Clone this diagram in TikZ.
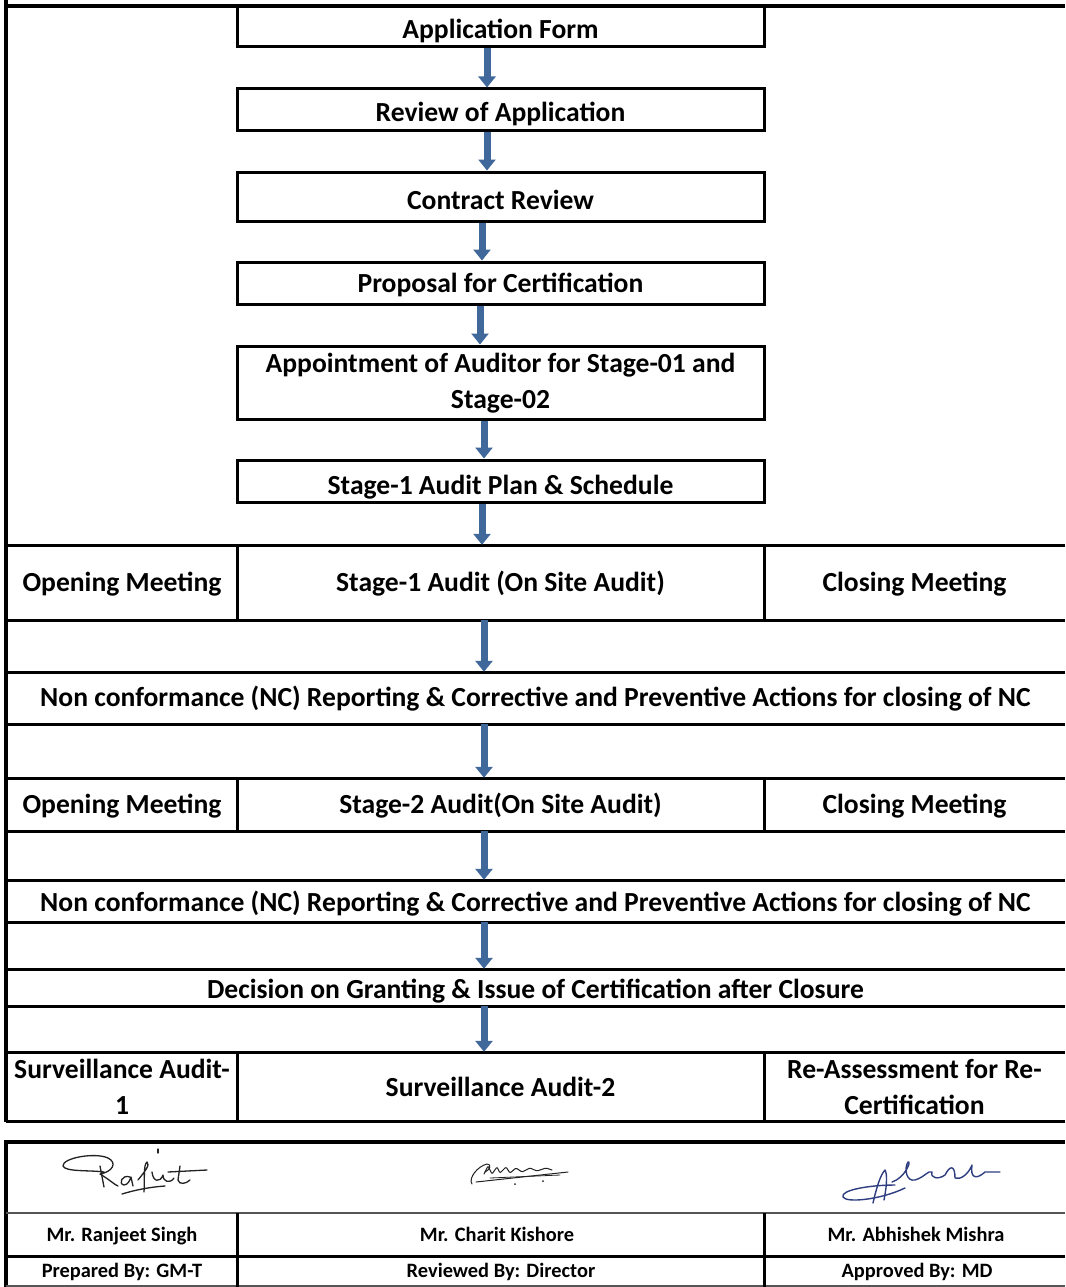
\documentclass[tikz,border=0pt]{standalone}
\usepackage{fontspec}
\setmainfont{Carlito}
\usetikzlibrary{arrows.meta}
\definecolor{arrblue}{HTML}{41689B}
\definecolor{ink}{HTML}{222222}
\definecolor{blueink}{HTML}{2E3E80}
\definecolor{lgray}{HTML}{555555}
\newcommand\flowfont{\fontsize{27.6}{36}\selectfont\bfseries}
\newcommand\footfont{\fontsize{20.4}{24}\selectfont\bfseries}
\begin{document}
\begin{tikzpicture}[x=1pt,y=-1pt,
  box/.style={draw, line width=3pt, minimum width=527pt, inner sep=0pt, font=\flowfont, align=center},
  cell/.style={inner sep=0pt, font=\flowfont, align=center},
  fcell/.style={inner sep=0pt, font=\footfont, align=center},
  bl/.style={text height=#1, text depth=0pt},
  rule/.style={line width=3pt},
  frame/.style={line width=4pt},
  arr/.style={draw=arrblue, line width=7pt, -{Triangle[width=17pt,length=11pt]}},
  sig/.style={draw=ink, line width=1.3pt, line cap=round, line join=round},
  bsig/.style={draw=blueink, line width=1.4pt, line cap=round, line join=round}]
\fill[white] (0,0) rectangle (1065,1287);
\useasboundingbox (0,0) rectangle (1065,1287);

% outer frame
\draw[frame] (6,0) -- (6,1122);
\draw[frame] (4,6) -- (1065,6);

% flow boxes
\node[box, minimum height=41pt, bl=24pt] (b1) at (500.5,26.5) {Application Form};
\node[box, minimum height=42pt, bl=24pt] (b2) at (500.5,110) {Review of Application};
\node[box, minimum height=49pt, bl=25pt] (b3) at (500.5,196.5) {Contract Review};
\node[box, minimum height=42pt, bl=19pt] (b4) at (500.5,283) {Proposal for Certification};
\node[box, minimum height=73pt, bl=51pt] (b5) at (500.5,382.5) {Appointment of Auditor for Stage-01 and\\Stage-02};
\node[box, minimum height=42pt, bl=26pt] (b6) at (500.5,481) {Stage-1 Audit Plan \& Schedule};

% full-width rules
\foreach \yy in {545,620,672,724,778,831,880,922,969,1006,1052,1121}
  \draw[rule] (6,\yy) -- (1065,\yy);
% column dividers
\foreach \ya/\yb in {545/620,778/831,1052/1121}{
  \draw[rule] (237,\ya) -- (237,\yb);
  \draw[rule] (764,\ya) -- (764,\yb);
}

% row cells
\node[cell, minimum width=231pt, minimum height=75pt, bl=17pt] (r1o) at (122,582.5) {Opening Meeting};
\node[cell, minimum width=527pt, minimum height=75pt, bl=17pt] (r1s) at (500.5,582.5) {Stage-1 Audit (On Site Audit)};
\node[cell, minimum width=301pt, minimum height=75pt, bl=17pt] (r1c) at (914.5,582.5) {Closing Meeting};
\node[cell, minimum width=1059pt, minimum height=52pt, bl=16pt] (nc1) at (535.5,698) {Non conformance (NC) Reporting \& Corrective and Preventive Actions for closing of NC};
\node[cell, minimum width=231pt, minimum height=53pt, bl=17pt] (r2o) at (122,804.5) {Opening Meeting};
\node[cell, minimum width=527pt, minimum height=53pt, bl=17pt] (r2s) at (500.5,804.5) {Stage-2 Audit(On Site Audit)};
\node[cell, minimum width=301pt, minimum height=53pt, bl=17pt] (r2c) at (914.5,804.5) {Closing Meeting};
\node[cell, minimum width=1059pt, minimum height=42pt, bl=20pt] (nc2) at (535.5,901) {Non conformance (NC) Reporting \& Corrective and Preventive Actions for closing of NC};
\node[cell, minimum width=1059pt, minimum height=37pt, bl=21pt] (dec) at (535.5,987.5) {Decision on Granting \& Issue of Certification after Closure};
\node[cell, minimum width=231pt, minimum height=69pt, bl=56pt] (r3o) at (122,1086.5) {Surveillance Audit-\\1};
\node[cell, minimum width=527pt, minimum height=69pt, bl=20pt] (r3s) at (500.5,1086.5) {Surveillance Audit-2};
\node[cell, minimum width=301pt, minimum height=69pt, bl=55pt] (r3c) at (914.5,1086.5) {Re-Assessment for Re-\\Certification};

% arrows
\draw[arr] (b1.south -| 487,0) -- (b2.north -| 487,0);
\draw[arr] (b2.south -| 487,0) -- (b3.north -| 487,0);
\draw[arr] (b3.south -| 482,0) -- (b4.north -| 482,0);
\draw[arr] (b4.south -| 480,0) -- (b5.north -| 480,0);
\draw[arr] (b5.south -| 484,0) -- (b6.north -| 484,0);
\draw[arr] (b6.south -| 482,0) -- (r1s.north -| 482,0);
\draw[arr] (r1s.south -| 484,0) -- (nc1.north -| 484,0);
\draw[arr] (nc1.south -| 484,0) -- (r2s.north -| 484,0);
\draw[arr] (r2s.south -| 484,0) -- (nc2.north -| 484,0);
\draw[arr] (nc2.south -| 484,0) -- (dec.north -| 484,0);
\draw[arr] (dec.south -| 484,0) -- (r3s.north -| 484,0);

% footer table
\draw[frame] (4,1142) -- (1065,1142);
\draw[frame] (6,1140) -- (6,1287);
\draw[line width=2pt, lgray] (6,1213) -- (1065,1213);
\draw[rule] (6,1256) -- (1065,1256);
\draw[line width=2pt, lgray] (6,1286) -- (1065,1286);
\draw[rule] (237,1213) -- (237,1287);
\draw[rule] (764,1213) -- (764,1287);

\node[fcell, minimum width=231pt, minimum height=43pt, bl=13pt] (f1) at (122,1234.5) {Mr. Ranjeet Singh};
\node[fcell, minimum width=527pt, minimum height=43pt, bl=13pt] (f2) at (497,1234.5) {Mr. Charit Kishore};
\node[fcell, minimum width=301pt, minimum height=43pt, bl=13pt] (f3) at (916,1234.5) {Mr. Abhishek Mishra};
\node[fcell, minimum width=231pt, minimum height=30pt, bl=13pt] (g1) at (122,1271) {Prepared By: GM-T};
\node[fcell, minimum width=527pt, minimum height=30pt, bl=13pt] (g2) at (501,1271) {Reviewed By: Director};
\node[fcell, minimum width=301pt, minimum height=30pt, bl=13pt] (g3) at (917,1271) {Approved By: MD};

% signature: Ranjeet
\draw[sig] (104,1172) .. controls (90,1170) and (65,1172) .. (63,1166) .. controls (62,1158) and (95,1152) .. (108,1158) .. controls (118,1163) and (112,1172) .. (100,1174) .. controls (110,1180) and (115,1185) .. (118,1186);
\draw[sig] (100,1166) -- (104,1187);
\draw[sig] (130,1177) .. controls (122,1174) and (118,1184) .. (124,1185) .. controls (128,1185) and (130,1180) .. (131,1177) -- (133,1186);
\draw[sig] (138,1180) .. controls (146,1170) and (150,1165) .. (147,1162) .. controls (143,1165) and (145,1180) .. (144,1192);
\draw[sig] (158,1149) -- (158,1153);
\draw[sig] (152,1172) .. controls (153,1182) and (160,1183) .. (163,1175) .. controls (163,1182) and (170,1184) .. (174,1178);
\draw[sig] (180,1166) -- (178,1180) .. controls (179,1185) and (186,1184) .. (190,1180);
\draw[sig] (168,1172) -- (207,1170);
\draw[sig] (122,1194) .. controls (135,1190) and (150,1187) .. (165,1186);

% signature: Kishore
\draw[sig, line width=1pt] (472,1184) .. controls (468,1178) and (478,1166) .. (487,1164) .. controls (492,1164) and (490,1170) .. (485,1172);
\draw[sig, line width=1pt, rounded corners=1pt] (484,1174) -- (488,1166) -- (492,1174) -- (497,1167) -- (500,1173) -- (506,1167) -- (510,1173) -- (516,1168) -- (522,1172) -- (530,1168) -- (537,1171) -- (546,1168) -- (552,1170);
\draw[sig, line width=1pt] (476,1182) -- (568,1172);
\draw[sig, line width=0.8pt] (490,1178) -- (560,1175);
\fill[ink] (515,1184) circle (1pt) (543,1181) circle (1pt);

% signature: Abhishek
\draw[bsig] (873,1203) .. controls (876,1190) and (880,1175) .. (885,1170) .. controls (888,1175) and (886,1190) .. (884,1200);
\draw[bsig] (895,1185) .. controls (870,1185) and (840,1190) .. (843,1197) .. controls (846,1203) and (880,1200) .. (905,1188);
\draw[bsig] (892,1182) .. controls (905,1178) and (912,1160) .. (908,1162) .. controls (904,1168) and (906,1182) .. (915,1180) .. controls (925,1177) and (928,1170) .. (932,1172) .. controls (930,1178) and (938,1180) .. (945,1175) .. controls (950,1165) and (955,1165) .. (955,1178) .. controls (960,1180) and (968,1175) .. (972,1165) .. controls (970,1178) and (976,1180) .. (985,1172) -- (1000,1172);
\end{tikzpicture}
\end{document}
